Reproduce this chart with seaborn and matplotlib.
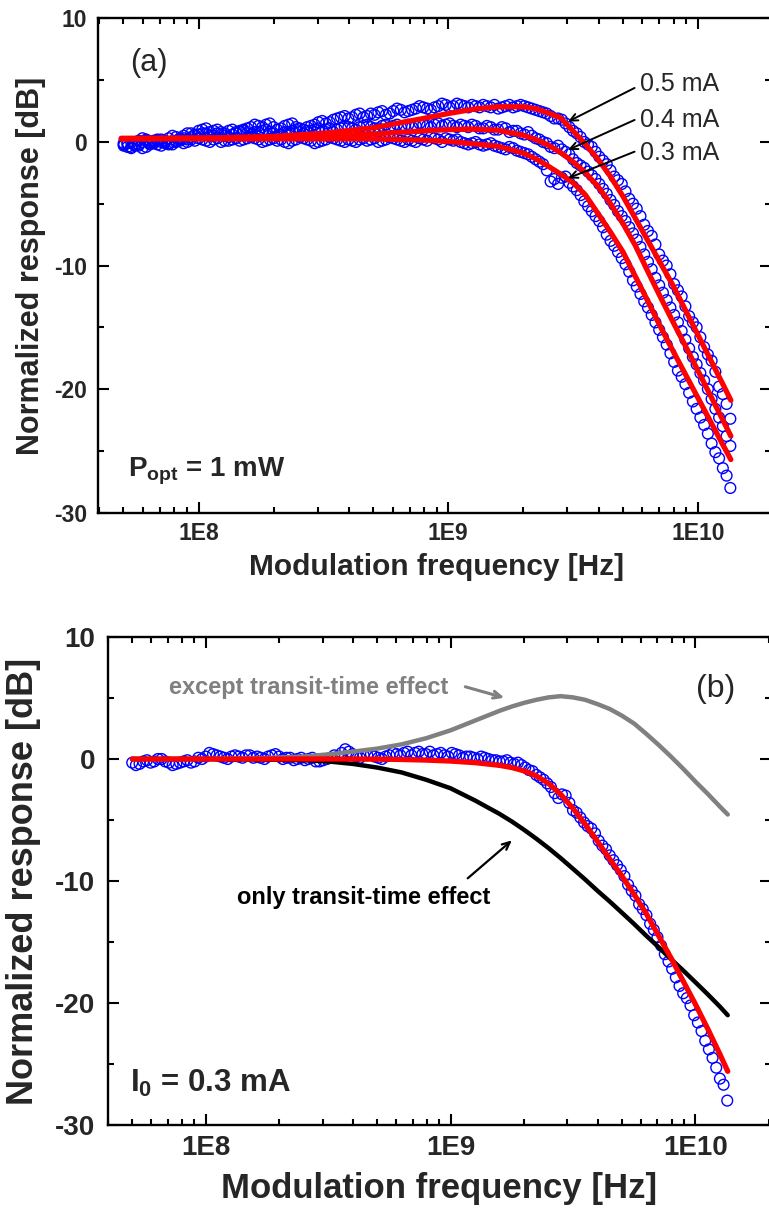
import numpy as np
import pandas as pd
import matplotlib
matplotlib.use("Agg")
import matplotlib.pyplot as plt
import matplotlib.ticker as mticker
import seaborn as sns

# ------------------------------------------------------------------ data
# measurement sweep (log10 of frequency in Hz) - two interleaved point sets
log_f_meas = [7.70, 7.73, 7.76, 7.79, 7.82, 7.85, 7.88, 7.91, 7.94, 7.97,
              8.00, 8.03, 8.06, 8.09, 8.12, 8.15, 8.18, 8.21, 8.24, 8.27,
              8.30, 8.33, 8.36, 8.39, 8.42, 8.45, 8.48, 8.51, 8.54, 8.57,
              8.60, 8.63, 8.66, 8.69, 8.72, 8.75, 8.78, 8.81, 8.84, 8.87,
              8.90, 8.93, 8.96, 8.99, 9.02, 9.05, 9.08, 9.11, 9.14, 9.17,
              9.20, 9.23, 9.26, 9.29, 9.32, 9.35, 9.38, 9.41, 9.44, 9.47,
              9.50, 9.53, 9.56, 9.59, 9.62, 9.65, 9.68, 9.71, 9.74, 9.77,
              9.80, 9.83, 9.86, 9.89, 9.92, 9.95, 9.98, 10.01, 10.04, 10.07,
              10.10, 10.13]
log_f_meas_mid = [7.715, 7.745, 7.775, 7.805, 7.835, 7.865, 7.895, 7.925, 7.955, 7.985,
                  8.015, 8.045, 8.075, 8.105, 8.135, 8.165, 8.195, 8.225, 8.255, 8.285,
                  8.315, 8.345, 8.375, 8.405, 8.435, 8.465, 8.495, 8.525, 8.555, 8.585,
                  8.615, 8.645, 8.675, 8.705, 8.735, 8.765, 8.795, 8.825, 8.855, 8.885,
                  8.915, 8.945, 8.975, 9.005, 9.035, 9.065, 9.095, 9.125, 9.155, 9.185,
                  9.215, 9.245, 9.275, 9.305, 9.335, 9.365, 9.395, 9.425, 9.455, 9.485,
                  9.515, 9.545, 9.575, 9.605, 9.635, 9.665, 9.695, 9.725, 9.755, 9.785,
                  9.815, 9.845, 9.875, 9.905, 9.935, 9.965, 9.995, 10.025, 10.055, 10.085,
                  10.115]

meas_a_05 = [-0.2, -0.4, 0.1, 0.2, 0.1, 0.2, 0.3, 0.4, 0.5, 0.7,
             0.9, 1.1, 0.9, 0.8, 0.9, 0.8, 1.0, 1.2, 1.3, 1.4,
             1.2, 1.1, 1.4, 1.2, 1.0, 1.3, 1.6, 1.5, 1.8, 2.0,
             1.9, 2.2, 2.0, 2.3, 2.4, 2.2, 2.5, 2.6, 2.5, 2.7,
             2.8, 2.6, 2.9, 3.0, 2.9, 3.0, 2.8, 2.9, 3.0, 2.8,
             2.7, 2.9, 2.8, 3.0, 2.8, 2.6, 2.4, 2.1, 1.9, 1.5,
             0.9, 0.4, -0.2, -0.8, -1.5, -2.3, -3.1, -4.0, -5.0, -6.0,
             -7.2, -8.3, -9.6, -10.7, -12.0, -13.3, -14.6, -15.8, -17.2, -18.6,
             -20.4, -22.4]
meas_a_05_mid = [-0.1, -0.2, 0.3, 0.0, 0.2, 0.1, 0.5, 0.3, 0.7, 0.6,
                 1.0, 0.8, 1.0, 0.7, 1.0, 0.9, 1.1, 1.4, 1.2, 1.5,
                 1.0, 1.3, 1.5, 1.1, 1.2, 1.4, 1.7, 1.6, 1.9, 2.1,
                 2.0, 2.3, 2.1, 2.2, 2.5, 2.3, 2.7, 2.4, 2.6, 2.9,
                 2.7, 2.8, 3.1, 2.8, 3.1, 2.9, 3.0, 2.8, 2.9, 3.0,
                 2.8, 3.0, 2.9, 2.9, 2.7, 2.5, 2.3, 1.9, 1.8, 1.2,
                 0.7, 0.0, -0.4, -1.2, -1.8, -2.8, -3.4, -4.6, -5.4, -6.7,
                 -7.6, -9.1, -10.0, -11.5, -12.5, -14.1, -15.0, -16.6, -17.7, -19.8,
                 -21.2]

meas_a_04 = [-0.3, 0.0, -0.3, 0.1, -0.1, 0.0, -0.2, 0.1, 0.3, 0.4,
             0.6, 0.7, 0.5, 0.6, 0.4, 0.7, 0.9, 0.6, 0.8, 1.0,
             0.7, 0.6, 0.8, 1.0, 0.7, 0.9, 1.1, 1.0, 0.8, 1.1,
             1.2, 1.0, 1.3, 1.2, 1.1, 1.4, 1.3, 1.2, 1.4, 1.3,
             1.4, 1.2, 1.5, 1.4, 1.3, 1.4, 1.2, 1.3, 1.1, 1.2,
             1.0, 1.1, 0.9, 0.7, 0.8, 0.3, 0.0, -0.4, -0.3, -0.8,
             -1.4, -1.9, -2.4, -3.0, -3.8, -4.7, -5.6, -6.4, -7.4, -8.5,
             -9.7, -11.0, -12.2, -13.4, -14.6, -16.0, -17.4, -18.7, -20.0, -21.6,
             -23.0, -24.6]
meas_a_04_mid = [-0.1, -0.2, 0.0, -0.2, 0.1, -0.1, 0.0, 0.2, 0.2, 0.5,
                 0.7, 0.5, 0.7, 0.5, 0.6, 0.8, 0.7, 0.8, 0.9, 0.8,
                 0.5, 0.8, 0.9, 0.8, 0.9, 1.0, 0.9, 1.1, 1.0, 1.3,
                 1.1, 1.2, 1.4, 1.1, 1.3, 1.2, 1.4, 1.3, 1.2, 1.5,
                 1.3, 1.4, 1.3, 1.5, 1.2, 1.3, 1.4, 1.1, 1.3, 1.0,
                 1.2, 0.8, 0.9, 0.6, 0.5, 0.2, -0.1, -0.5, -0.6, -1.0,
                 -1.7, -2.1, -2.7, -3.4, -4.2, -5.1, -6.0, -6.9, -7.9, -9.1,
                 -10.3, -11.6, -12.8, -14.0, -15.3, -16.7, -18.0, -19.3, -20.8, -22.3,
                 -23.8]

meas_a_03 = [-0.1, -0.5, -0.2, -0.4, 0.0, -0.3, -0.1, 0.0, -0.1, 0.2,
             0.3, 0.1, 0.2, 0.0, 0.1, 0.3, 0.2, 0.4, 0.2, 0.1,
             0.3, 0.2, -0.1, 0.2, 0.3, 0.1, 0.0, 0.2, 0.3, 0.1,
             0.2, 0.0, 0.3, 0.2, 0.0, 0.2, 0.3, 0.1, 0.2, 0.0,
             0.2, 0.4, 0.2, 0.3, 0.1, 0.0, -0.2, 0.0, -0.3, -0.1,
             -0.4, -0.6, -0.5, -0.8, -1.0, -1.4, -1.8, -3.2, -3.4, -2.8,
             -3.6, -4.3, -5.2, -6.0, -6.9, -8.0, -8.9, -9.9, -11.2, -12.3,
             -13.4, -14.6, -15.8, -17.1, -18.5, -19.6, -21.0, -22.3, -23.6, -25.1,
             -26.4, -28.0]
meas_a_03_mid = [-0.4, -0.3, -0.5, -0.1, -0.2, 0.0, -0.2, 0.1, 0.0, 0.1,
                 0.2, 0.0, 0.3, 0.1, 0.2, 0.1, 0.3, 0.3, 0.0, 0.2,
                 0.1, 0.0, 0.1, 0.4, 0.2, -0.1, 0.1, 0.4, 0.2, 0.0,
                 0.1, 0.2, 0.1, 0.3, 0.1, 0.4, 0.2, 0.0, 0.1, 0.3,
                 0.1, 0.3, 0.0, 0.2, 0.2, -0.1, -0.1, -0.2, -0.2, -0.3,
                 -0.5, -0.4, -0.7, -0.9, -1.2, -1.6, -2.3, -3.0, -2.9, -3.3,
                 -3.9, -4.8, -5.6, -6.4, -7.5, -8.4, -9.4, -10.5, -11.7, -12.9,
                 -14.0, -15.2, -16.4, -17.8, -19.0, -20.3, -21.6, -22.9, -24.4, -25.6,
                 -27.0]

meas_b = [-0.3, -0.4, -0.1, -0.2, 0.0, -0.3, -0.4, -0.2, -0.3, 0.1,
          0.2, 0.4, 0.2, 0.0, 0.3, 0.1, 0.3, 0.2, 0.0, 0.3,
          0.2, 0.1, -0.1, 0.1, 0.0, -0.2, -0.1, 0.1, 0.2, 0.8,
          0.4, 0.1, 0.3, 0.2, 0.0, 0.3, 0.4, 0.5, 0.3, 0.6,
          0.4, 0.3, 0.5, 0.2, 0.4, 0.1, 0.2, 0.0, 0.1, -0.1,
          -0.2, -0.1, -0.4, -0.5, -0.9, -1.3, -1.7, -2.3, -3.2, -3.0,
          -4.2, -4.8, -5.5, -6.1, -7.1, -7.9, -8.7, -9.6, -10.8, -11.9,
          -12.8, -14.0, -15.3, -16.6, -17.9, -19.2, -20.2, -21.6, -23.1, -24.5,
          -26.2, -28.0]
meas_b_mid = [-0.5, -0.2, -0.3, 0.0, -0.2, -0.5, -0.3, -0.1, -0.2, 0.0,
              0.5, 0.3, 0.1, 0.2, 0.2, 0.3, 0.1, 0.1, 0.2, 0.4,
              0.0, 0.1, 0.0, -0.1, 0.1, -0.2, 0.0, 0.3, 0.5, 0.6,
              0.2, 0.3, 0.4, 0.1, 0.2, 0.5, 0.3, 0.6, 0.5, 0.4,
              0.6, 0.4, 0.3, 0.5, 0.3, 0.2, 0.1, 0.2, 0.0, -0.1,
              -0.2, -0.3, -0.3, -0.7, -1.0, -1.5, -2.0, -2.8, -2.9, -3.6,
              -4.4, -5.2, -5.7, -6.7, -7.4, -8.3, -9.1, -10.3, -11.2, -12.3,
              -13.5, -14.6, -16.0, -17.2, -18.6, -19.6, -21.0, -22.3, -23.8, -25.3,
              -26.7]

# fitted curves, panel (a)
log_f_fit_a = [7.69, 7.90, 8.10, 8.30, 8.50, 8.70, 8.90, 9.00, 9.10, 9.20,
               9.30, 9.35, 9.40, 9.45, 9.50, 9.55, 9.60, 9.65, 9.70, 9.75,
               9.80, 9.85, 9.90, 9.95, 10.00, 10.05, 10.10, 10.132]
fit_a_05 = [0.25, 0.30, 0.35, 0.45, 0.70, 1.15, 1.90, 2.30, 2.65, 2.85,
            2.85, 2.70, 2.35, 1.95, 0.90, -0.20, -1.40, -2.80, -4.40, -6.20,
            -8.00, -9.80, -11.60, -13.60, -15.60, -17.60, -19.60, -20.90]
fit_a_04 = [0.30, 0.30, 0.30, 0.35, 0.45, 0.65, 0.90, 1.00, 1.05, 0.95,
            0.55, 0.20, -0.25, -0.85, -1.60, -2.50, -3.60, -5.00, -6.60, -8.40,
            -10.50, -12.55, -14.55, -16.50, -18.50, -20.50, -22.50, -23.80]
fit_a_03 = [0.25, 0.25, 0.25, 0.25, 0.25, 0.25, 0.15, 0.05, -0.15, -0.35,
            -0.90, -1.35, -1.95, -2.60, -3.30, -4.30, -5.80, -7.30, -8.90, -10.90,
            -12.90, -14.95, -16.90, -18.80, -20.70, -22.60, -24.50, -25.70]

# model curves, panel (b)
log_f_fit_b = [7.70, 8.00, 8.20, 8.40, 8.50, 8.60, 8.70, 8.80, 8.90, 9.00,
               9.10, 9.20, 9.25, 9.30, 9.35, 9.40, 9.45, 9.50, 9.55, 9.60,
               9.65, 9.70, 9.75, 9.80, 9.85, 9.90, 9.95, 10.00, 10.05, 10.10,
               10.132]
fit_b_full = [0.00, 0.00, 0.00, 0.00, 0.00, 0.00, -0.01, -0.04, -0.09, -0.17,
              -0.30, -0.52, -0.70, -0.97, -1.38, -2.00, -2.90, -4.05, -5.35, -6.75,
              -8.20, -9.60, -11.10, -12.70, -14.50, -16.30, -18.20, -20.10, -22.10, -24.20,
              -25.60]
fit_b_except = [0.00, 0.00, 0.05, 0.20, 0.38, 0.60, 0.85, 1.20, 1.70, 2.35,
                3.15, 3.95, 4.30, 4.60, 4.85, 5.05, 5.15, 5.05, 4.85, 4.50,
                4.10, 3.55, 2.90, 2.05, 1.15, 0.20, -0.80, -1.85, -2.85, -3.90,
                -4.55]
fit_b_transit = [0.00, -0.01, -0.03, -0.10, -0.20, -0.40, -0.70, -1.10, -1.70, -2.40,
                 -3.40, -4.50, -5.12, -5.80, -6.53, -7.30, -8.13, -9.00, -9.88, -10.80,
                 -11.68, -12.60, -13.53, -14.50, -15.43, -16.40, -17.33, -18.30, -19.28, -20.30,
                 -21.00]

current_labels = ["0.5 mA", "0.4 mA", "0.3 mA"]
x_tick_values = [1e8, 1e9, 1e10]
x_tick_labels = ["1E8", "1E9", "1E10"]
y_tick_values = [10, 0, -10, -20, -30]

# ------------------------------------------------------------------ style
sns.set_style("ticks")
plt.rcParams["font.family"] = ["Liberation Sans", "DejaVu Sans"]
plt.rcParams["axes.unicode_minus"] = False
plt.rcParams["mathtext.fontset"] = "custom"
plt.rcParams["mathtext.rm"] = "Liberation Sans"
plt.rcParams["mathtext.bf"] = "Liberation Sans:bold"
plt.rcParams["mathtext.it"] = "Liberation Sans:italic"

BLUE = "#0000ff"
RED = "#ff0000"
GREY = "#808080"

meas_f_all = 10 ** np.array(log_f_meas + log_f_meas_mid)
df_a = pd.concat([
    pd.DataFrame({"f": meas_f_all, "r": meas_a_05 + meas_a_05_mid, "I": "0.5"}),
    pd.DataFrame({"f": meas_f_all, "r": meas_a_04 + meas_a_04_mid, "I": "0.4"}),
    pd.DataFrame({"f": meas_f_all, "r": meas_a_03 + meas_a_03_mid, "I": "0.3"}),
])
df_b = pd.DataFrame({"f": meas_f_all, "r": meas_b + meas_b_mid})
fa = 10 ** np.array(log_f_fit_a)
fits_a = [fit_a_05, fit_a_04, fit_a_03]
fb = 10 ** np.array(log_f_fit_b)

fig = plt.figure(figsize=(7.69, 12.13), dpi=100)
ax1 = fig.add_axes([0.12744, 0.57733, 0.87516, 0.40751])
ax2 = fig.add_axes([0.14005, 0.072547, 0.86255, 0.40231])


def style_axes(ax, xlim, tick_fs, ypad):
    ax.set_xscale("log")
    ax.set_xlim(*xlim)
    ax.set_ylim(-30, 10)
    ax.xaxis.set_major_locator(mticker.FixedLocator(x_tick_values))
    ax.xaxis.set_major_formatter(mticker.FixedFormatter(x_tick_labels))
    ax.xaxis.set_minor_locator(mticker.LogLocator(base=10, subs=np.arange(2, 10)))
    ax.xaxis.set_minor_formatter(mticker.NullFormatter())
    ax.yaxis.set_major_locator(mticker.FixedLocator(y_tick_values))
    ax.yaxis.set_minor_locator(mticker.MultipleLocator(5))
    ax.tick_params(which="both", direction="in", top=True, right=True,
                   width=1.5, color="black")
    ax.tick_params(which="major", length=8, labelsize=tick_fs)
    ax.tick_params(which="minor", length=4.5)
    ax.tick_params(axis="x", which="major", pad=7)
    ax.tick_params(axis="y", which="major", pad=ypad)
    for lab in ax.get_xticklabels() + ax.get_yticklabels():
        lab.set_fontweight("bold")
    for sp in ax.spines.values():
        sp.set_linewidth(1.7)
        sp.set_color("black")
    ax.grid(False)


# ------------------------------------------------------------------ panel (a)
style_axes(ax1, (10 ** 7.597, 10 ** 10.2929), 16.5, 8)
for cur in ["0.5", "0.4", "0.3"]:
    sub = df_a[df_a["I"] == cur]
    sns.scatterplot(x=sub["f"], y=sub["r"], ax=ax1, marker="o", s=60,
                    facecolors="none", edgecolors=BLUE, linewidth=1.0,
                    zorder=2, legend=False)
for fit in fits_a:
    sns.lineplot(x=fa, y=fit, ax=ax1, color=RED, lw=3.8, sort=False,
                 estimator=None, zorder=3, legend=False)

ax1.set_xlabel("Modulation frequency [Hz]", fontsize=21.5, fontweight="bold",
               va="top")
ax1.xaxis.set_label_coords(0.503, -0.0815)
ax1.set_ylabel("Normalized response [dB]", fontsize=22, fontweight="bold")
ax1.yaxis.set_label_coords(-0.078, 0.5)

ax1.text(0.075, 0.9088, "(a)", transform=ax1.transAxes, fontsize=22,
         ha="center", va="center")
arrow_tail_a = [(5.576e9, 4.37), (5.576e9, 1.78), (5.576e9, -0.785)]
arrow_tip_a = [(3.015e9, 1.64), (3.015e9, -0.65), (3.015e9, -2.94)]
text_y_a = [0.8673, 0.7945, 0.7277]
for lab, tail, tip, ty in zip(current_labels, arrow_tail_a, arrow_tip_a, text_y_a):
    ax1.text(0.8053, ty, lab, transform=ax1.transAxes, fontsize=18,
             ha="left", va="center")
    ax1.annotate("", xy=tip, xytext=tail,
                 arrowprops=dict(arrowstyle="->,head_length=0.55,head_width=0.25",
                                 lw=1.4, color="black", shrinkA=0, shrinkB=0),
                 zorder=5)
ax1.text(0.0441, 0.0728, r"$\mathbf{P_{opt}}$ = 1 mW", transform=ax1.transAxes,
         fontsize=20, fontweight="bold", ha="left", va="baseline")

# ------------------------------------------------------------------ panel (b)
style_axes(ax2, (10 ** 7.5998, 10 ** 10.3087), 20, 9)
sns.scatterplot(data=df_b, x="f", y="r", ax=ax2, marker="o", s=60,
                facecolors="none", edgecolors=BLUE, linewidth=1.0,
                zorder=2, legend=False)
sns.lineplot(x=fb, y=fit_b_transit, ax=ax2, color="black", lw=3.2, sort=False,
             estimator=None, zorder=3, legend=False)
sns.lineplot(x=fb, y=fit_b_except, ax=ax2, color=GREY, lw=3.2, sort=False,
             estimator=None, zorder=3, legend=False)
sns.lineplot(x=fb, y=fit_b_full, ax=ax2, color=RED, lw=3.8, sort=False,
             estimator=None, zorder=4, legend=False)
ax2.set_xlabel("Modulation frequency [Hz]", fontsize=25, fontweight="bold",
               va="top")
ax2.xaxis.set_label_coords(0.4993, -0.0963)
ax2.set_ylabel("Normalized response [dB]", fontsize=26, fontweight="bold")
ax2.yaxis.set_label_coords(-0.1013, 0.5)

ax2.text(0.917, 0.8934, "(b)", transform=ax2.transAxes, fontsize=23,
         ha="center", va="center")
ax2.text(0.0924, 0.8955, "except transit-time effect", transform=ax2.transAxes,
         fontsize=17, fontweight="bold", color=GREY, ha="left", va="center")
ax2.annotate("", xy=(1.659e9, 5.02), xytext=(1.149e9, 5.92),
             arrowprops=dict(arrowstyle="->,head_length=0.55,head_width=0.25",
                             lw=2.2, color=GREY, shrinkA=0, shrinkB=0), zorder=5)
ax2.text(0.1949, 0.467, "only transit-time effect", transform=ax2.transAxes,
         fontsize=17, fontweight="bold", color="black", ha="left", va="center")
ax2.annotate("", xy=(1.780e9, -6.67), xytext=(1.175e9, -9.78),
             arrowprops=dict(arrowstyle="->,head_length=0.55,head_width=0.25",
                             lw=1.6, color="black", shrinkA=0, shrinkB=0), zorder=5)
ax2.text(0.0336, 0.0682, r"$\mathbf{I_{0}}$ = 0.3 mA", transform=ax2.transAxes,
         fontsize=22.5, fontweight="bold", ha="left", va="baseline")

fig.savefig("out.png", dpi=100)
